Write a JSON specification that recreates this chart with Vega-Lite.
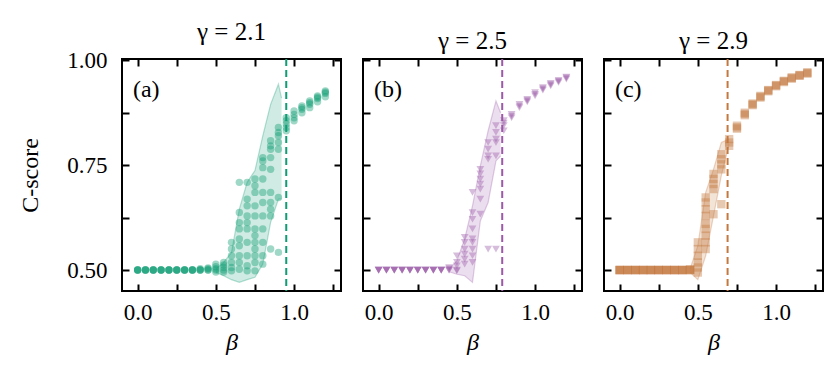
{
"$schema": "https://vega.github.io/schema/vega-lite/v6.json",
"padding": {"left": 17, "top": 19, "right": 0, "bottom": 0},
"spacing": 18,
"config": {
  "font": "Liberation Serif",
  "view": {"stroke": "black", "strokeWidth": 2},
  "axis": {"labelFont": "Liberation Serif", "labelFontSize": 23, "labelColor": "black", "titleFont": "Liberation Serif", "titleFontSize": 24, "titleFontWeight": "normal", "titleColor": "black", "grid": false, "domain": false, "tickColor": "black", "tickWidth": 2, "tickSize": -7, "labelOverlap": false, "labelFlush": false, "labelBound": false},
  "title": {"font": "Liberation Serif", "fontSize": 25, "fontWeight": "normal", "color": "black", "offset": 4}
},
"data": {"values": [
{"p":"a","k":"crit","b":0.95,"t":"(a)"},
{"p":"b","k":"crit","b":0.79,"t":"(b)"},
{"p":"c","k":"crit","b":0.69,"t":"(c)"},
{"p":"a","k":"band","b":0.5,"lo":0.4944,"hi":0.5024},
{"p":"a","k":"band","b":0.55,"lo":0.4865,"hi":0.5183},
{"p":"a","k":"band","b":0.6,"lo":0.477,"hi":0.542},
{"p":"a","k":"band","b":0.65,"lo":0.4706,"hi":0.645},
{"p":"a","k":"band","b":0.7,"lo":0.477,"hi":0.709},
{"p":"a","k":"band","b":0.75,"lo":0.4825,"hi":0.737},
{"p":"a","k":"band","b":0.8,"lo":0.5143,"hi":0.82},
{"p":"a","k":"band","b":0.85,"lo":0.6135,"hi":0.895},
{"p":"a","k":"band","b":0.9,"lo":0.669,"hi":0.943},
{"p":"a","k":"band","b":0.92,"lo":0.669,"hi":0.91},
{"p":"b","k":"band","b":0.45,"lo":0.496,"hi":0.502},
{"p":"b","k":"band","b":0.5,"lo":0.49,"hi":0.522},
{"p":"b","k":"band","b":0.55,"lo":0.4865,"hi":0.574},
{"p":"b","k":"band","b":0.6,"lo":0.4706,"hi":0.653},
{"p":"b","k":"band","b":0.65,"lo":0.617,"hi":0.748},
{"p":"b","k":"band","b":0.7,"lo":0.661,"hi":0.832},
{"p":"b","k":"band","b":0.75,"lo":0.76,"hi":0.903},
{"p":"b","k":"band","b":0.78,"lo":0.772,"hi":0.875},
{"p":"c","k":"band","b":0.45,"lo":0.4944,"hi":0.5024},
{"p":"c","k":"band","b":0.5,"lo":0.477,"hi":0.558},
{"p":"c","k":"band","b":0.55,"lo":0.534,"hi":0.685},
{"p":"c","k":"band","b":0.6,"lo":0.629,"hi":0.74},
{"p":"c","k":"band","b":0.65,"lo":0.725,"hi":0.804},
{"p":"c","k":"band","b":0.7,"lo":0.8,"hi":0.812},
{"p":"a","k":"pt","b":0,"c":0.5},{"p":"a","k":"pt","b":0,"c":0.5},{"p":"a","k":"pt","b":0,"c":0.5},{"p":"a","k":"pt","b":0,"c":0.5},
{"p":"a","k":"pt","b":0.05,"c":0.5},{"p":"a","k":"pt","b":0.05,"c":0.5},{"p":"a","k":"pt","b":0.05,"c":0.5},{"p":"a","k":"pt","b":0.05,"c":0.5},
{"p":"a","k":"pt","b":0.1,"c":0.5},{"p":"a","k":"pt","b":0.1,"c":0.5},{"p":"a","k":"pt","b":0.1,"c":0.5},{"p":"a","k":"pt","b":0.1,"c":0.5},
{"p":"a","k":"pt","b":0.15,"c":0.5},{"p":"a","k":"pt","b":0.15,"c":0.5},{"p":"a","k":"pt","b":0.15,"c":0.5},{"p":"a","k":"pt","b":0.15,"c":0.5},
{"p":"a","k":"pt","b":0.2,"c":0.5},{"p":"a","k":"pt","b":0.2,"c":0.5},{"p":"a","k":"pt","b":0.2,"c":0.5},{"p":"a","k":"pt","b":0.2,"c":0.5},
{"p":"a","k":"pt","b":0.25,"c":0.5},{"p":"a","k":"pt","b":0.25,"c":0.5},{"p":"a","k":"pt","b":0.25,"c":0.5},{"p":"a","k":"pt","b":0.25,"c":0.5},
{"p":"a","k":"pt","b":0.3,"c":0.5},{"p":"a","k":"pt","b":0.3,"c":0.5},{"p":"a","k":"pt","b":0.3,"c":0.5},{"p":"a","k":"pt","b":0.3,"c":0.5},
{"p":"a","k":"pt","b":0.35,"c":0.5},{"p":"a","k":"pt","b":0.35,"c":0.5},{"p":"a","k":"pt","b":0.35,"c":0.5},{"p":"a","k":"pt","b":0.35,"c":0.5},
{"p":"a","k":"pt","b":0.4,"c":0.5},{"p":"a","k":"pt","b":0.4,"c":0.5},{"p":"a","k":"pt","b":0.4,"c":0.503},{"p":"a","k":"pt","b":0.4,"c":0.5},
{"p":"a","k":"pt","b":0.45,"c":0.5},{"p":"a","k":"pt","b":0.45,"c":0.5},{"p":"a","k":"pt","b":0.45,"c":0.503},{"p":"a","k":"pt","b":0.45,"c":0.505},
{"p":"a","k":"pt","b":0.5,"c":0.495},{"p":"a","k":"pt","b":0.5,"c":0.5},{"p":"a","k":"pt","b":0.5,"c":0.503},{"p":"a","k":"pt","b":0.5,"c":0.508},{"p":"a","k":"pt","b":0.5,"c":0.514},
{"p":"a","k":"pt","b":0.55,"c":0.495},{"p":"a","k":"pt","b":0.55,"c":0.5},{"p":"a","k":"pt","b":0.55,"c":0.506},{"p":"a","k":"pt","b":0.55,"c":0.512},{"p":"a","k":"pt","b":0.55,"c":0.518},
{"p":"a","k":"pt","b":0.6,"c":0.566},{"p":"a","k":"pt","b":0.6,"c":0.55},{"p":"a","k":"pt","b":0.6,"c":0.534},{"p":"a","k":"pt","b":0.6,"c":0.518},{"p":"a","k":"pt","b":0.6,"c":0.506},{"p":"a","k":"pt","b":0.6,"c":0.498},
{"p":"a","k":"pt","b":0.65,"c":0.709},{"p":"a","k":"pt","b":0.65,"c":0.637},{"p":"a","k":"pt","b":0.65,"c":0.613},{"p":"a","k":"pt","b":0.65,"c":0.598},{"p":"a","k":"pt","b":0.65,"c":0.574},{"p":"a","k":"pt","b":0.65,"c":0.558},{"p":"a","k":"pt","b":0.65,"c":0.534},{"p":"a","k":"pt","b":0.65,"c":0.518},{"p":"a","k":"pt","b":0.65,"c":0.502},
{"p":"a","k":"pt","b":0.7,"c":0.709},{"p":"a","k":"pt","b":0.7,"c":0.669},{"p":"a","k":"pt","b":0.7,"c":0.653},{"p":"a","k":"pt","b":0.7,"c":0.629},{"p":"a","k":"pt","b":0.7,"c":0.613},{"p":"a","k":"pt","b":0.7,"c":0.598},{"p":"a","k":"pt","b":0.7,"c":0.566},{"p":"a","k":"pt","b":0.7,"c":0.534},{"p":"a","k":"pt","b":0.7,"c":0.51},{"p":"a","k":"pt","b":0.7,"c":0.498},
{"p":"a","k":"pt","b":0.75,"c":0.717},{"p":"a","k":"pt","b":0.75,"c":0.701},{"p":"a","k":"pt","b":0.75,"c":0.685},{"p":"a","k":"pt","b":0.75,"c":0.653},{"p":"a","k":"pt","b":0.75,"c":0.629},{"p":"a","k":"pt","b":0.75,"c":0.598},{"p":"a","k":"pt","b":0.75,"c":0.582},{"p":"a","k":"pt","b":0.75,"c":0.566},{"p":"a","k":"pt","b":0.75,"c":0.55},{"p":"a","k":"pt","b":0.75,"c":0.534},{"p":"a","k":"pt","b":0.75,"c":0.518},{"p":"a","k":"pt","b":0.75,"c":0.498},
{"p":"a","k":"pt","b":0.8,"c":0.768},{"p":"a","k":"pt","b":0.8,"c":0.76},{"p":"a","k":"pt","b":0.8,"c":0.744},{"p":"a","k":"pt","b":0.8,"c":0.717},{"p":"a","k":"pt","b":0.8,"c":0.685},{"p":"a","k":"pt","b":0.8,"c":0.661},{"p":"a","k":"pt","b":0.8,"c":0.629},{"p":"a","k":"pt","b":0.8,"c":0.598},{"p":"a","k":"pt","b":0.8,"c":0.566},{"p":"a","k":"pt","b":0.8,"c":0.534},{"p":"a","k":"pt","b":0.8,"c":0.514},
{"p":"a","k":"pt","b":0.85,"c":0.808},{"p":"a","k":"pt","b":0.85,"c":0.796},{"p":"a","k":"pt","b":0.85,"c":0.788},{"p":"a","k":"pt","b":0.85,"c":0.768},{"p":"a","k":"pt","b":0.85,"c":0.74},{"p":"a","k":"pt","b":0.85,"c":0.685},{"p":"a","k":"pt","b":0.85,"c":0.661},{"p":"a","k":"pt","b":0.85,"c":0.645},{"p":"a","k":"pt","b":0.85,"c":0.629},{"p":"a","k":"pt","b":0.85,"c":0.55},
{"p":"a","k":"pt","b":0.9,"c":0.84},{"p":"a","k":"pt","b":0.9,"c":0.828},{"p":"a","k":"pt","b":0.9,"c":0.82},{"p":"a","k":"pt","b":0.9,"c":0.804},{"p":"a","k":"pt","b":0.9,"c":0.788},{"p":"a","k":"pt","b":0.9,"c":0.673},{"p":"a","k":"pt","b":0.9,"c":0.542},
{"p":"a","k":"pt","b":0.95,"c":0.863},{"p":"a","k":"pt","b":0.95,"c":0.856},{"p":"a","k":"pt","b":0.95,"c":0.848},{"p":"a","k":"pt","b":0.95,"c":0.84},{"p":"a","k":"pt","b":0.95,"c":0.832},
{"p":"a","k":"pt","b":1.0,"c":0.879},{"p":"a","k":"pt","b":1.0,"c":0.871},{"p":"a","k":"pt","b":1.0,"c":0.863},{"p":"a","k":"pt","b":1.0,"c":0.856},
{"p":"a","k":"pt","b":1.05,"c":0.891},{"p":"a","k":"pt","b":1.05,"c":0.883},{"p":"a","k":"pt","b":1.05,"c":0.875},{"p":"a","k":"pt","b":1.05,"c":0.887},
{"p":"a","k":"pt","b":1.1,"c":0.903},{"p":"a","k":"pt","b":1.1,"c":0.895},{"p":"a","k":"pt","b":1.1,"c":0.887},{"p":"a","k":"pt","b":1.1,"c":0.899},
{"p":"a","k":"pt","b":1.15,"c":0.915},{"p":"a","k":"pt","b":1.15,"c":0.909},{"p":"a","k":"pt","b":1.15,"c":0.901},{"p":"a","k":"pt","b":1.15,"c":0.912},
{"p":"a","k":"pt","b":1.2,"c":0.927},{"p":"a","k":"pt","b":1.2,"c":0.921},{"p":"a","k":"pt","b":1.2,"c":0.913},{"p":"a","k":"pt","b":1.2,"c":0.924},
{"p":"b","k":"pt","b":0,"c":0.5},{"p":"b","k":"pt","b":0,"c":0.5},{"p":"b","k":"pt","b":0,"c":0.5},{"p":"b","k":"pt","b":0,"c":0.5},
{"p":"b","k":"pt","b":0.05,"c":0.5},{"p":"b","k":"pt","b":0.05,"c":0.5},{"p":"b","k":"pt","b":0.05,"c":0.5},{"p":"b","k":"pt","b":0.05,"c":0.5},
{"p":"b","k":"pt","b":0.1,"c":0.5},{"p":"b","k":"pt","b":0.1,"c":0.5},{"p":"b","k":"pt","b":0.1,"c":0.5},{"p":"b","k":"pt","b":0.1,"c":0.5},
{"p":"b","k":"pt","b":0.15,"c":0.5},{"p":"b","k":"pt","b":0.15,"c":0.5},{"p":"b","k":"pt","b":0.15,"c":0.5},{"p":"b","k":"pt","b":0.15,"c":0.5},
{"p":"b","k":"pt","b":0.2,"c":0.5},{"p":"b","k":"pt","b":0.2,"c":0.5},{"p":"b","k":"pt","b":0.2,"c":0.5},{"p":"b","k":"pt","b":0.2,"c":0.5},
{"p":"b","k":"pt","b":0.25,"c":0.5},{"p":"b","k":"pt","b":0.25,"c":0.5},{"p":"b","k":"pt","b":0.25,"c":0.5},{"p":"b","k":"pt","b":0.25,"c":0.5},
{"p":"b","k":"pt","b":0.3,"c":0.5},{"p":"b","k":"pt","b":0.3,"c":0.5},{"p":"b","k":"pt","b":0.3,"c":0.5},{"p":"b","k":"pt","b":0.3,"c":0.5},
{"p":"b","k":"pt","b":0.35,"c":0.5},{"p":"b","k":"pt","b":0.35,"c":0.5},{"p":"b","k":"pt","b":0.35,"c":0.5},{"p":"b","k":"pt","b":0.35,"c":0.5},
{"p":"b","k":"pt","b":0.4,"c":0.5},{"p":"b","k":"pt","b":0.4,"c":0.5},{"p":"b","k":"pt","b":0.4,"c":0.5},{"p":"b","k":"pt","b":0.4,"c":0.5},
{"p":"b","k":"pt","b":0.45,"c":0.5},{"p":"b","k":"pt","b":0.45,"c":0.5},{"p":"b","k":"pt","b":0.45,"c":0.503},{"p":"b","k":"pt","b":0.45,"c":0.506},
{"p":"b","k":"pt","b":0.5,"c":0.534},{"p":"b","k":"pt","b":0.5,"c":0.518},{"p":"b","k":"pt","b":0.5,"c":0.51},{"p":"b","k":"pt","b":0.5,"c":0.498},{"p":"b","k":"pt","b":0.5,"c":0.5},
{"p":"b","k":"pt","b":0.55,"c":0.578},{"p":"b","k":"pt","b":0.55,"c":0.566},{"p":"b","k":"pt","b":0.55,"c":0.55},{"p":"b","k":"pt","b":0.55,"c":0.538},{"p":"b","k":"pt","b":0.55,"c":0.526},{"p":"b","k":"pt","b":0.55,"c":0.514},
{"p":"b","k":"pt","b":0.6,"c":0.685},{"p":"b","k":"pt","b":0.6,"c":0.637},{"p":"b","k":"pt","b":0.6,"c":0.621},{"p":"b","k":"pt","b":0.6,"c":0.598},{"p":"b","k":"pt","b":0.6,"c":0.574},{"p":"b","k":"pt","b":0.6,"c":0.566},{"p":"b","k":"pt","b":0.6,"c":0.55},{"p":"b","k":"pt","b":0.6,"c":0.534},{"p":"b","k":"pt","b":0.6,"c":0.518},
{"p":"b","k":"pt","b":0.65,"c":0.74},{"p":"b","k":"pt","b":0.65,"c":0.729},{"p":"b","k":"pt","b":0.65,"c":0.717},{"p":"b","k":"pt","b":0.65,"c":0.705},{"p":"b","k":"pt","b":0.65,"c":0.693},{"p":"b","k":"pt","b":0.65,"c":0.669},{"p":"b","k":"pt","b":0.65,"c":0.633},
{"p":"b","k":"pt","b":0.7,"c":0.804},{"p":"b","k":"pt","b":0.7,"c":0.788},{"p":"b","k":"pt","b":0.7,"c":0.772},{"p":"b","k":"pt","b":0.7,"c":0.764},{"p":"b","k":"pt","b":0.7,"c":0.55},
{"p":"b","k":"pt","b":0.75,"c":0.844},{"p":"b","k":"pt","b":0.75,"c":0.828},{"p":"b","k":"pt","b":0.75,"c":0.812},{"p":"b","k":"pt","b":0.75,"c":0.804},{"p":"b","k":"pt","b":0.75,"c":0.772},{"p":"b","k":"pt","b":0.75,"c":0.55},
{"p":"b","k":"pt","b":0.8,"c":0.856},{"p":"b","k":"pt","b":0.8,"c":0.844},{"p":"b","k":"pt","b":0.8,"c":0.832},{"p":"b","k":"pt","b":0.8,"c":0.85},
{"p":"b","k":"pt","b":0.85,"c":0.871},{"p":"b","k":"pt","b":0.85,"c":0.863},{"p":"b","k":"pt","b":0.85,"c":0.867},
{"p":"b","k":"pt","b":0.9,"c":0.895},{"p":"b","k":"pt","b":0.9,"c":0.887},{"p":"b","k":"pt","b":0.9,"c":0.891},
{"p":"b","k":"pt","b":0.95,"c":0.907},{"p":"b","k":"pt","b":0.95,"c":0.901},{"p":"b","k":"pt","b":0.95,"c":0.904},
{"p":"b","k":"pt","b":1.0,"c":0.923},{"p":"b","k":"pt","b":1.0,"c":0.915},{"p":"b","k":"pt","b":1.0,"c":0.919},
{"p":"b","k":"pt","b":1.05,"c":0.935},{"p":"b","k":"pt","b":1.05,"c":0.929},{"p":"b","k":"pt","b":1.05,"c":0.932},
{"p":"b","k":"pt","b":1.1,"c":0.945},{"p":"b","k":"pt","b":1.1,"c":0.939},{"p":"b","k":"pt","b":1.1,"c":0.942},
{"p":"b","k":"pt","b":1.15,"c":0.952},{"p":"b","k":"pt","b":1.15,"c":0.947},{"p":"b","k":"pt","b":1.15,"c":0.95},
{"p":"b","k":"pt","b":1.2,"c":0.96},{"p":"b","k":"pt","b":1.2,"c":0.955},{"p":"b","k":"pt","b":1.2,"c":0.958},
{"p":"c","k":"pt","b":0,"c":0.5},{"p":"c","k":"pt","b":0,"c":0.5},{"p":"c","k":"pt","b":0,"c":0.5},{"p":"c","k":"pt","b":0,"c":0.5},
{"p":"c","k":"pt","b":0.05,"c":0.5},{"p":"c","k":"pt","b":0.05,"c":0.5},{"p":"c","k":"pt","b":0.05,"c":0.5},{"p":"c","k":"pt","b":0.05,"c":0.5},
{"p":"c","k":"pt","b":0.1,"c":0.5},{"p":"c","k":"pt","b":0.1,"c":0.5},{"p":"c","k":"pt","b":0.1,"c":0.5},{"p":"c","k":"pt","b":0.1,"c":0.5},
{"p":"c","k":"pt","b":0.15,"c":0.5},{"p":"c","k":"pt","b":0.15,"c":0.5},{"p":"c","k":"pt","b":0.15,"c":0.5},{"p":"c","k":"pt","b":0.15,"c":0.5},
{"p":"c","k":"pt","b":0.2,"c":0.5},{"p":"c","k":"pt","b":0.2,"c":0.5},{"p":"c","k":"pt","b":0.2,"c":0.5},{"p":"c","k":"pt","b":0.2,"c":0.5},
{"p":"c","k":"pt","b":0.25,"c":0.5},{"p":"c","k":"pt","b":0.25,"c":0.5},{"p":"c","k":"pt","b":0.25,"c":0.5},{"p":"c","k":"pt","b":0.25,"c":0.5},
{"p":"c","k":"pt","b":0.3,"c":0.5},{"p":"c","k":"pt","b":0.3,"c":0.5},{"p":"c","k":"pt","b":0.3,"c":0.5},{"p":"c","k":"pt","b":0.3,"c":0.5},
{"p":"c","k":"pt","b":0.35,"c":0.5},{"p":"c","k":"pt","b":0.35,"c":0.5},{"p":"c","k":"pt","b":0.35,"c":0.5},{"p":"c","k":"pt","b":0.35,"c":0.5},
{"p":"c","k":"pt","b":0.4,"c":0.5},{"p":"c","k":"pt","b":0.4,"c":0.5},{"p":"c","k":"pt","b":0.4,"c":0.5},{"p":"c","k":"pt","b":0.4,"c":0.5},
{"p":"c","k":"pt","b":0.45,"c":0.5},{"p":"c","k":"pt","b":0.45,"c":0.5},{"p":"c","k":"pt","b":0.45,"c":0.502},{"p":"c","k":"pt","b":0.45,"c":0.5},
{"p":"c","k":"pt","b":0.5,"c":0.566},{"p":"c","k":"pt","b":0.5,"c":0.55},{"p":"c","k":"pt","b":0.5,"c":0.534},{"p":"c","k":"pt","b":0.5,"c":0.518},{"p":"c","k":"pt","b":0.5,"c":0.506},{"p":"c","k":"pt","b":0.5,"c":0.494},
{"p":"c","k":"pt","b":0.55,"c":0.673},{"p":"c","k":"pt","b":0.55,"c":0.661},{"p":"c","k":"pt","b":0.55,"c":0.645},{"p":"c","k":"pt","b":0.55,"c":0.629},{"p":"c","k":"pt","b":0.55,"c":0.61},{"p":"c","k":"pt","b":0.55,"c":0.598},{"p":"c","k":"pt","b":0.55,"c":0.582},{"p":"c","k":"pt","b":0.55,"c":0.566},{"p":"c","k":"pt","b":0.55,"c":0.55},
{"p":"c","k":"pt","b":0.6,"c":0.729},{"p":"c","k":"pt","b":0.6,"c":0.717},{"p":"c","k":"pt","b":0.6,"c":0.705},{"p":"c","k":"pt","b":0.6,"c":0.693},{"p":"c","k":"pt","b":0.6,"c":0.633},
{"p":"c","k":"pt","b":0.65,"c":0.776},{"p":"c","k":"pt","b":0.65,"c":0.764},{"p":"c","k":"pt","b":0.65,"c":0.752},{"p":"c","k":"pt","b":0.65,"c":0.74},{"p":"c","k":"pt","b":0.65,"c":0.657},
{"p":"c","k":"pt","b":0.7,"c":0.812},{"p":"c","k":"pt","b":0.7,"c":0.804},{"p":"c","k":"pt","b":0.7,"c":0.796},
{"p":"c","k":"pt","b":0.75,"c":0.844},{"p":"c","k":"pt","b":0.75,"c":0.837},{"p":"c","k":"pt","b":0.75,"c":0.84},
{"p":"c","k":"pt","b":0.8,"c":0.875},{"p":"c","k":"pt","b":0.8,"c":0.869},{"p":"c","k":"pt","b":0.8,"c":0.872},
{"p":"c","k":"pt","b":0.85,"c":0.897},{"p":"c","k":"pt","b":0.85,"c":0.893},{"p":"c","k":"pt","b":0.85,"c":0.895},
{"p":"c","k":"pt","b":0.9,"c":0.915},{"p":"c","k":"pt","b":0.9,"c":0.911},{"p":"c","k":"pt","b":0.9,"c":0.913},
{"p":"c","k":"pt","b":0.95,"c":0.929},{"p":"c","k":"pt","b":0.95,"c":0.926},{"p":"c","k":"pt","b":0.95,"c":0.928},
{"p":"c","k":"pt","b":1.0,"c":0.941},{"p":"c","k":"pt","b":1.0,"c":0.938},{"p":"c","k":"pt","b":1.0,"c":0.94},
{"p":"c","k":"pt","b":1.05,"c":0.951},{"p":"c","k":"pt","b":1.05,"c":0.948},{"p":"c","k":"pt","b":1.05,"c":0.95},
{"p":"c","k":"pt","b":1.1,"c":0.959},{"p":"c","k":"pt","b":1.1,"c":0.956},{"p":"c","k":"pt","b":1.1,"c":0.958},
{"p":"c","k":"pt","b":1.15,"c":0.964},{"p":"c","k":"pt","b":1.15,"c":0.963},{"p":"c","k":"pt","b":1.15,"c":0.965},
{"p":"c","k":"pt","b":1.2,"c":0.971},{"p":"c","k":"pt","b":1.2,"c":0.968},{"p":"c","k":"pt","b":1.2,"c":0.97}
]},
"hconcat": [
{
 "width": 219, "height": 232,
 "title": {"text": "γ = 2.1", "font": "Liberation Serif", "fontSize": 25, "fontWeight": "normal"},
 "transform": [{"filter": "datum.p == 'a'"}],
 "layer": [
  {"transform": [{"filter": "datum.k == 'band'"}], "mark": {"type": "area", "color": "#0f9d74", "opacity": 0.2},
   "encoding": {"x": {"field": "b", "type": "quantitative", "scale": {"domain": [-0.1, 1.3], "nice": false, "zero": false}, "axis": {"orient": "top", "values": [0, 0.25, 0.5, 0.75, 1, 1.25], "labels": false, "title": null}},
    "y": {"field": "lo", "type": "quantitative", "scale": {"domain": [0.45, 1.003], "nice": false, "zero": false}, "axis": {"orient": "right", "values": [0.5, 0.625, 0.75, 0.875, 1], "labels": false, "title": null}},
    "y2": {"field": "hi"}}},
  {"transform": [{"filter": "datum.k == 'band'"}], "mark": {"type": "line", "color": "#0f9d74", "opacity": 0.3, "strokeWidth": 1.2},
   "encoding": {"x": {"field": "b", "type": "quantitative", "axis": null}, "y": {"field": "hi", "type": "quantitative", "axis": null}}},
  {"transform": [{"filter": "datum.k == 'band'"}], "mark": {"type": "line", "color": "#0f9d74", "opacity": 0.3, "strokeWidth": 1.2},
   "encoding": {"x": {"field": "b", "type": "quantitative", "axis": null}, "y": {"field": "lo", "type": "quantitative", "axis": null}}},
  {"transform": [{"filter": "datum.k == 'pt'"}], "mark": {"type": "point", "shape": "circle", "filled": true, "color": "#0f9d74", "opacity": 0.4, "size": 55},
   "encoding": {"x": {"field": "b", "type": "quantitative", "axis": {"orient": "bottom", "values": [0, 0.25, 0.5, 0.75, 1, 1.25], "labelExpr": "datum.value == 0 || datum.value == 0.5 || datum.value == 1 ? format(datum.value, '.1f') : ''", "title": "β", "titleFontStyle": "italic", "labelPadding": 17, "titlePadding": 6}},
    "y": {"field": "c", "type": "quantitative", "axis": {"orient": "left", "values": [0.5, 0.625, 0.75, 0.875, 1], "labelExpr": "datum.value == 0.5 || datum.value == 0.75 || datum.value == 1 ? format(datum.value, '.2f') : ''", "title": "C-score", "labelPadding": 22, "titlePadding": 24}}}},
  {"transform": [{"filter": "datum.k == 'crit'"}], "mark": {"type": "rule", "color": "#0f9d74", "strokeWidth": 2, "strokeDash": [7, 4]},
   "encoding": {"x": {"field": "b", "type": "quantitative", "axis": null}}},
  {"transform": [{"filter": "datum.k == 'crit'"}], "mark": {"type": "text", "align": "left", "baseline": "middle", "fontSize": 24, "font": "Liberation Serif", "color": "black"},
   "encoding": {"x": {"datum": -0.03, "type": "quantitative", "axis": null}, "y": {"datum": 0.93, "type": "quantitative", "axis": null}, "text": {"field": "t"}}}
 ],
 "resolve": {"axis": {"x": "independent", "y": "independent"}}
},
{
 "width": 219, "height": 232,
 "title": {"text": "γ = 2.5", "font": "Liberation Serif", "fontSize": 25, "fontWeight": "normal"},
 "transform": [{"filter": "datum.p == 'b'"}],
 "layer": [
  {"transform": [{"filter": "datum.k == 'band'"}], "mark": {"type": "area", "color": "#9b59a8", "opacity": 0.2},
   "encoding": {"x": {"field": "b", "type": "quantitative", "scale": {"domain": [-0.1, 1.3], "nice": false, "zero": false}, "axis": {"orient": "top", "values": [0, 0.25, 0.5, 0.75, 1, 1.25], "labels": false, "title": null}},
    "y": {"field": "lo", "type": "quantitative", "scale": {"domain": [0.45, 1.003], "nice": false, "zero": false}, "axis": {"orient": "right", "values": [0.5, 0.625, 0.75, 0.875, 1], "labels": false, "title": null}},
    "y2": {"field": "hi"}}},
  {"transform": [{"filter": "datum.k == 'band'"}], "mark": {"type": "line", "color": "#9b59a8", "opacity": 0.3, "strokeWidth": 1.2},
   "encoding": {"x": {"field": "b", "type": "quantitative", "axis": null}, "y": {"field": "hi", "type": "quantitative", "axis": null}}},
  {"transform": [{"filter": "datum.k == 'band'"}], "mark": {"type": "line", "color": "#9b59a8", "opacity": 0.3, "strokeWidth": 1.2},
   "encoding": {"x": {"field": "b", "type": "quantitative", "axis": null}, "y": {"field": "lo", "type": "quantitative", "axis": null}}},
  {"transform": [{"filter": "datum.k == 'pt'"}], "mark": {"type": "point", "shape": "triangle-down", "filled": true, "color": "#9b59a8", "opacity": 0.4, "size": 60},
   "encoding": {"x": {"field": "b", "type": "quantitative", "axis": {"orient": "bottom", "values": [0, 0.25, 0.5, 0.75, 1, 1.25], "labelExpr": "datum.value == 0 || datum.value == 0.5 || datum.value == 1 ? format(datum.value, '.1f') : ''", "title": "β", "titleFontStyle": "italic", "labelPadding": 17, "titlePadding": 6}},
    "y": {"field": "c", "type": "quantitative", "axis": {"orient": "left", "values": [0.5, 0.625, 0.75, 0.875, 1], "labels": false, "title": null}}}},
  {"transform": [{"filter": "datum.k == 'crit'"}], "mark": {"type": "rule", "color": "#9b59a8", "strokeWidth": 2, "strokeDash": [7, 4]},
   "encoding": {"x": {"field": "b", "type": "quantitative", "axis": null}}},
  {"transform": [{"filter": "datum.k == 'crit'"}], "mark": {"type": "text", "align": "left", "baseline": "middle", "fontSize": 24, "font": "Liberation Serif", "color": "black"},
   "encoding": {"x": {"datum": -0.03, "type": "quantitative", "axis": null}, "y": {"datum": 0.93, "type": "quantitative", "axis": null}, "text": {"field": "t"}}}
 ],
 "resolve": {"axis": {"x": "independent", "y": "independent"}}
},
{
 "width": 219, "height": 232,
 "title": {"text": "γ = 2.9", "font": "Liberation Serif", "fontSize": 25, "fontWeight": "normal"},
 "transform": [{"filter": "datum.p == 'c'"}],
 "layer": [
  {"transform": [{"filter": "datum.k == 'band'"}], "mark": {"type": "area", "color": "#c4783e", "opacity": 0.2},
   "encoding": {"x": {"field": "b", "type": "quantitative", "scale": {"domain": [-0.1, 1.3], "nice": false, "zero": false}, "axis": {"orient": "top", "values": [0, 0.25, 0.5, 0.75, 1, 1.25], "labels": false, "title": null}},
    "y": {"field": "lo", "type": "quantitative", "scale": {"domain": [0.45, 1.003], "nice": false, "zero": false}, "axis": {"orient": "right", "values": [0.5, 0.625, 0.75, 0.875, 1], "labels": false, "title": null}},
    "y2": {"field": "hi"}}},
  {"transform": [{"filter": "datum.k == 'band'"}], "mark": {"type": "line", "color": "#c4783e", "opacity": 0.3, "strokeWidth": 1.2},
   "encoding": {"x": {"field": "b", "type": "quantitative", "axis": null}, "y": {"field": "hi", "type": "quantitative", "axis": null}}},
  {"transform": [{"filter": "datum.k == 'band'"}], "mark": {"type": "line", "color": "#c4783e", "opacity": 0.3, "strokeWidth": 1.2},
   "encoding": {"x": {"field": "b", "type": "quantitative", "axis": null}, "y": {"field": "lo", "type": "quantitative", "axis": null}}},
  {"transform": [{"filter": "datum.k == 'pt'"}], "mark": {"type": "point", "shape": "square", "filled": true, "color": "#c4783e", "opacity": 0.4, "size": 70},
   "encoding": {"x": {"field": "b", "type": "quantitative", "axis": {"orient": "bottom", "values": [0, 0.25, 0.5, 0.75, 1, 1.25], "labelExpr": "datum.value == 0 || datum.value == 0.5 || datum.value == 1 ? format(datum.value, '.1f') : ''", "title": "β", "titleFontStyle": "italic", "labelPadding": 17, "titlePadding": 6}},
    "y": {"field": "c", "type": "quantitative", "axis": {"orient": "left", "values": [0.5, 0.625, 0.75, 0.875, 1], "labels": false, "title": null}}}},
  {"transform": [{"filter": "datum.k == 'crit'"}], "mark": {"type": "rule", "color": "#c4783e", "strokeWidth": 2, "strokeDash": [7, 4]},
   "encoding": {"x": {"field": "b", "type": "quantitative", "axis": null}}},
  {"transform": [{"filter": "datum.k == 'crit'"}], "mark": {"type": "text", "align": "left", "baseline": "middle", "fontSize": 24, "font": "Liberation Serif", "color": "black"},
   "encoding": {"x": {"datum": -0.03, "type": "quantitative", "axis": null}, "y": {"datum": 0.93, "type": "quantitative", "axis": null}, "text": {"field": "t"}}}
 ],
 "resolve": {"axis": {"x": "independent", "y": "independent"}}
}
]
}
